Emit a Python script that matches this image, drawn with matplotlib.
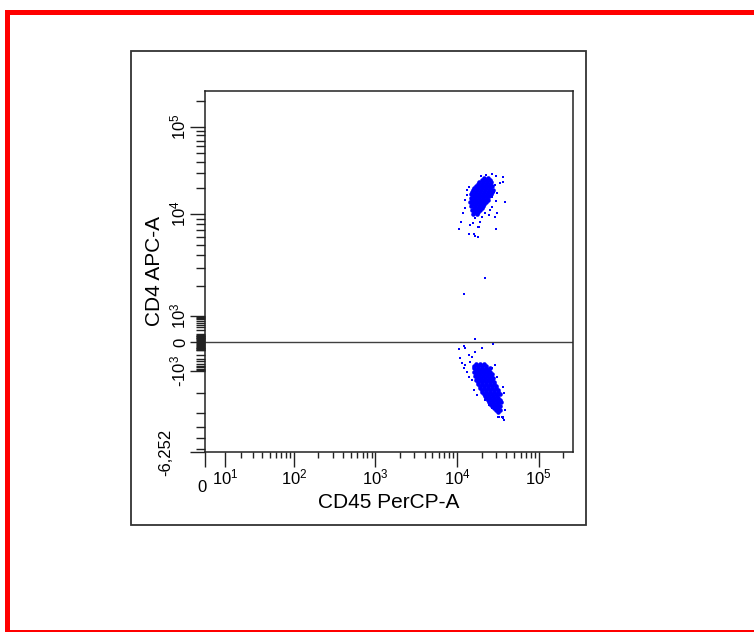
import numpy as np
import matplotlib
matplotlib.use('Agg')
import matplotlib.pyplot as plt
from matplotlib.patches import Rectangle
from matplotlib.transforms import ScaledTranslation

# CD4+ population (dense core), CD45 PerCP-A vs CD4 APC-A
cd45_pos_core = [21500, 24100,
                 20400, 22800, 25500,
                 18700, 20900, 23500, 26300,
                 18200, 20400, 22800, 25500,
                 17200, 19200, 21500, 24100, 27100,
                 16200, 18200, 20400, 22800, 25500,
                 15800, 17700, 19800, 22200, 24800, 27800,
                 15300, 17200, 19200, 21500, 24100, 27100,
                 14900, 16700, 18700, 20900, 23500, 26300,
                 15800, 17700, 19800, 22200, 24800,
                 14900, 16700, 18700, 20900, 23500,
                 15300, 17200, 19200, 21500, 24100,
                 14500, 16200, 18200, 20400, 22800,
                 15300, 17200, 19200, 21500,
                 14900, 16700, 18700, 20900,
                 16200, 18200, 20400,
                 15300, 17200, 19200,
                 16200, 18200,
                 15800, 17700]
cd4_pos_core = [26200] * 2 + [24800] * 3 + [23500] * 4 + [22300] * 4 + [21200] * 5 \
    + [20000] * 5 + [19000] * 6 + [18000] * 6 + [17100] * 6 + [16200] * 5 + [15300] * 5 \
    + [14600] * 5 + [13800] * 5 + [13100] * 4 + [12400] * 4 + [11700] * 3 + [11100] * 3 \
    + [10500] * 2 + [10000] * 2

# CD4+ population, scattered events (and a few between the populations)
cd45_pos_sparse = [19800, 22800, 27100, 30300, 36000, 33900, 29400, 28600, 39100, 30300,
                   31200, 29400, 30300, 22200, 19200, 18700, 16700, 18200, 14100, 16200,
                   10600, 11200, 11900, 12600, 12600, 13300, 14100, 13300, 14500, 15800,
                   16700, 20400, 18200, 25500, 27100, 27100, 31200, 36000, 24800,
                   22200, 12200]
cd4_pos_sparse = [27700, 28400, 29200, 27700, 27000, 22900, 21700, 18000, 13800, 14200,
                  10200, 9350, 7150, 10200, 8360, 7450, 6200, 6080, 6370, 6370,
                  7150, 8360, 10200, 11700, 14600, 19000, 20600, 16600, 7800, 8200,
                  9130, 9350, 7450, 11100, 12000, 15800, 17500, 23500, 9800,
                  2410, 1670]

# CD4- population (dense core)
cd45_neg_core = [17200, 19200, 21500,
                 16200, 18200, 20400, 22800,
                 16200, 18200, 20400, 22800, 25500,
                 17200, 19200, 21500, 24100,
                 16200, 18200, 20400, 22800, 25500,
                 17200, 19200, 21500, 24100, 27100,
                 16700, 18700, 20900, 23500, 26300,
                 17700, 19800, 22200, 24800, 27800,
                 17200, 19200, 21500, 24100, 27100,
                 18200, 20400, 22800, 25500, 28600,
                 18200, 20400, 22800, 25500, 28600,
                 19200, 21500, 24100, 27100, 30300,
                 19200, 21500, 24100, 27100, 30300,
                 20400, 22800, 25500, 28600, 32100,
                 20400, 22800, 25500, 28600, 32100,
                 21500, 24100, 27100, 30300, 33900,
                 22200, 24800, 27800, 31200,
                 22800, 25500, 28600, 32100,
                 24100, 27100, 30300, 33900,
                 24800, 27800, 31200, 34900,
                 25500, 28600, 32100,
                 27100, 30300, 33900,
                 28600, 32100,
                 30300, 33900,
                 32100]
cd4_neg_core = [-517] * 3 + [-626] * 4 + [-757] * 5 + [-912] * 4 + [-1032] * 5 + [-1100] * 5 \
    + [-1173] * 5 + [-1249] * 5 + [-1330] * 5 + [-1420] * 5 + [-1510] * 5 + [-1610] * 5 \
    + [-1710] * 5 + [-1820] * 5 + [-1940] * 5 + [-2040] * 5 + [-2120] * 4 + [-2210] * 4 \
    + [-2300] * 4 + [-2400] * 4 + [-2500] * 3 + [-2600] * 3 + [-2710] * 2 + [-2820] * 2 \
    + [-2940]

# CD4- population, scattered events
cd45_neg_sparse = [16700, 27800, 10600, 12200, 12600, 14100, 15300, 16700, 20400, 10900,
                   11500, 12600, 12200, 14500, 13300, 16200, 15300, 16200, 17700, 22200,
                   24800, 27100, 38000, 33900, 39100, 36000, 33000, 38000, 29400, 27100,
                   31200, 36000, 14100, 32100, 35000, 37000]
cd4_neg_sparse = [32, -18, -78, -39, -64, -193, -245, -129, -64, -275,
                  -467, -570, -757, -422, -1032, -1066, -1330, -1820, -2080, -2300,
                  -2550, -2710, -2000, -2400, -2820, -3320, -3250, -3460, -570, -757,
                  -1210, -1660, -1210, -3250, -3250, -3250]

x_major = [0, 10, 100, 1000, 10000, 100000]
x_major_labels = ['0', r'$\mathregular{10^{1}}$', r'$\mathregular{10^{2}}$',
                  r'$\mathregular{10^{3}}$', r'$\mathregular{10^{4}}$', r'$\mathregular{10^{5}}$']
y_major = [-6252, -1000, 0, 1000, 10000, 100000]
y_major_labels = ['-6,252', r'-$\mathregular{10^{3}}$', '0', r'$\mathregular{10^{3}}$',
                  r'$\mathregular{10^{4}}$', r'$\mathregular{10^{5}}$']

# --- scales (biexponential-like display) ---
X_COF = 16.5


def x_fwd(v):
    return np.arcsinh(np.asarray(v, float) / X_COF)


def x_inv(p):
    return X_COF * np.sinh(p)


# display positions of the y axis decades (pixels from the bottom of the plot)
y_scale_val = np.array([-6252, -5000, -4000, -3000, -2000, -1000, 0, 1000, 10000, 100000, 262144])
y_scale_pos = np.array([0, 14, 25, 39, 59, 81, 110, 136, 238, 325, 361])


def _h(v):
    return np.sign(v) * np.log10(1 + np.abs(v) / 100.0)


def _hinv(h):
    return np.sign(h) * 100.0 * (10 ** np.abs(h) - 1)


y_scale_h = _h(y_scale_val)


def y_fwd(v):
    return np.interp(_h(np.asarray(v, float)), y_scale_h, y_scale_pos)


def y_inv(p):
    return _hinv(np.interp(p, y_scale_pos, y_scale_h))


plt.rcParams['font.family'] = 'Liberation Sans'
plt.rcParams['mathtext.fontset'] = 'custom'
plt.rcParams['mathtext.rm'] = 'Liberation Sans'

W, H = 754, 632
fig = plt.figure(figsize=(W / 100, H / 100), dpi=100)

# red outer border and plot frame
fig.patches.append(Rectangle((6.5 / W, 0), 1.1, 620.5 / H, transform=fig.transFigure,
                             fill=False, ec='#ff0000', lw=3.6))
fig.patches.append(Rectangle((131 / W, 1 - 525 / H), 455 / W, 474 / H, transform=fig.transFigure,
                             fill=False, ec='#333333', lw=1.3))

ax = fig.add_axes([205 / W, 1 - 452 / H, 368 / W, 361 / H])
ax.set_xscale('function', functions=(x_fwd, x_inv))
ax.set_yscale('function', functions=(y_fwd, y_inv))
ax.set_xlim(0, 262144)
ax.set_ylim(-6252, 262144)

ax.axhline(0, color='#404040', lw=1.0, zorder=1)

ax.plot(cd45_pos_core, cd4_pos_core, 'o', color='#0000ff', ms=3.3, mew=0, zorder=2)
ax.plot(cd45_neg_core, cd4_neg_core, 'o', color='#0000ff', ms=3.3, mew=0, zorder=2)
ax.plot(cd45_pos_sparse, cd4_pos_sparse, 's', color='#0000ff', ms=1.5, mew=0, zorder=2)
ax.plot(cd45_neg_sparse, cd4_neg_sparse, 's', color='#0000ff', ms=1.5, mew=0, zorder=2)

# ticks
x_minor = [k * 10 ** e for e in range(1, 5) for k in range(2, 10)] + [200000]
y_minor = ([-k * 1000 for k in range(2, 7)]
           + [s * k * 10 ** e for s in (-1, 1) for e in (1, 2) for k in range(1, 10)]
           + [k * 10 ** e for e in (3, 4) for k in range(2, 10)] + [200000])
ax.set_xticks(x_major)
ax.set_xticklabels(x_major_labels)
ax.set_xticks(x_minor, minor=True)
ax.set_yticks(y_major)
ax.set_yticklabels(y_major_labels, rotation=90, va='center')
ax.set_yticks(y_minor, minor=True)

ax.tick_params(which='both', direction='out', color='#222222', width=1.0, labelsize=12)
ax.tick_params(which='major', length=10.8)
ax.tick_params(axis='x', which='major', pad=0.5)
ax.tick_params(axis='y', which='major', pad=1.5)
ax.tick_params(axis='x', which='minor', length=4.3)
ax.tick_params(axis='y', which='minor', length=6.5)
for sp in ax.spines.values():
    sp.set_color('#222222')
    sp.set_linewidth(1.1)

# nudge the "0" and bottom-limit labels as in the original
lbl = ax.get_xticklabels()[0]
lbl.set_transform(lbl.get_transform() + ScaledTranslation(-0.03, -0.12, fig.dpi_scale_trans))
lbl = ax.get_yticklabels()[0]
lbl.set_transform(lbl.get_transform() + ScaledTranslation(-0.15, 0, fig.dpi_scale_trans))

ax.set_xlabel('CD45 PerCP-A', fontsize=15)
ax.set_ylabel('CD4 APC-A', fontsize=15)
ax.xaxis.set_label_coords(0.5, -0.113)
ax.yaxis.set_label_coords(-0.111, 0.5)

fig.savefig('out.png', dpi=100)
